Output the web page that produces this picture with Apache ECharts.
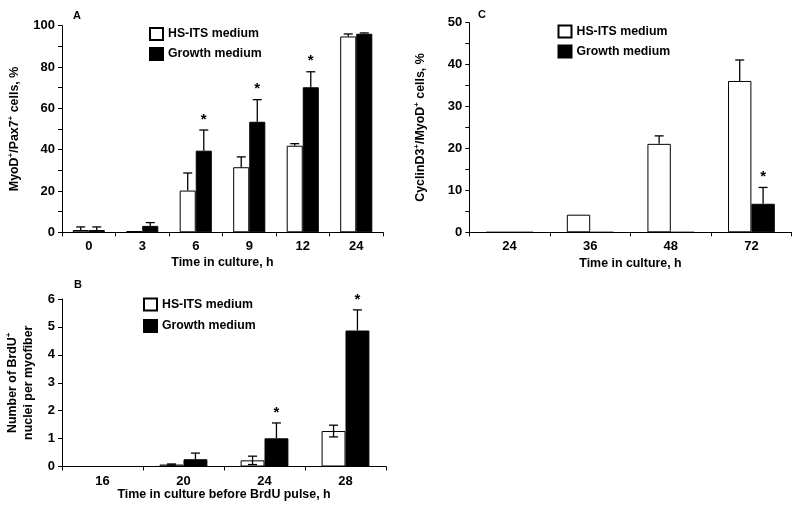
<!DOCTYPE html>
<html><head><meta charset="utf-8">
<script src="https://cdn.jsdelivr.net/npm/echarts@6/dist/echarts.min.js"></script>
<style>html,body{margin:0;padding:0;background:#fff}#c{width:800px;height:513px}</style>
</head><body><div id="c"></div>
<script>
// Panel A
const catsA = ['0','3','6','9','12','24'];
const hsA = [1.1, 0.6, 20.2, 31.5, 41.9, 94.8];
const hsAerr = [1.5, 0, 8.5, 5.0, 1.0, 1.2];
const gmA = [1.1, 3.1, 39.5, 53.5, 70.2, 96.1];
const gmAerr = [1.5, 1.6, 10.0, 10.7, 7.5, 0.4];
const sigA = [0, 0, 1, 1, 1, 0];
// Panel B
const catsB = ['16','20','24','28'];
const hsB = [0, 0.07, 0.22, 1.27];
const hsBerr = [0, 0.02, 0.15, 0.21];
const gmB = [0, 0.26, 1.01, 4.87];
const gmBerr = [0, 0.22, 0.55, 0.74];
const sigB = [0, 0, 1, 1];
// Panel C
const catsC = ['24','36','48','72'];
const hsC = [0, 4.2, 21.1, 36.1];
const hsCerr = [0, 0, 1.9, 5.0];
const gmC = [0, 0, 0, 6.8];
const gmCerr = [0, 0, 0, 3.9];
const sigC = [0, 0, 0, 1];

const S1 = 'HS-ITS medium', S2 = 'Growth medium';
const FF = '"Liberation Sans", Arial, sans-serif';
const gaps = [0.40, 0.41, 0.42];

const chart = echarts.init(document.getElementById('c'), null, {renderer: 'canvas'});

function yAxisCfg(gi, max, interval, minor, name, gap) {
  return {
    type: 'value', gridIndex: gi, min: 0, max: max, interval: interval,
    axisLine: {show: true, lineStyle: {color: '#000', width: 1}},
    axisTick: {show: true, length: 4, lineStyle: {color: '#000'}},
    minorTick: {show: minor, splitNumber: 2, length: 4, lineStyle: {color: '#000'}},
    splitLine: {show: false},
    axisLabel: {color: '#000', fontFamily: FF, fontWeight: 'bold', fontSize: 13, margin: 7},
    name: name, nameLocation: 'middle', nameGap: gap,
    nameTextStyle: {color: '#000', fontFamily: FF, fontWeight: 'bold', fontSize: 12.4, lineHeight: 16,
      rich: {s: {fontSize: 8, fontWeight: 'bold', fontFamily: FF, color: '#000', verticalAlign: 'top', lineHeight: 16}}}
  };
}
function xAxisCfg(gi, cats, name, gap) {
  return {
    type: 'category', gridIndex: gi, data: cats,
    axisLine: {show: true, lineStyle: {color: '#000', width: 1}},
    axisTick: {show: true, length: 4, lineStyle: {color: '#000'}},
    axisLabel: {color: '#000', fontFamily: FF, fontWeight: 'bold', fontSize: 13, margin: 8},
    name: name, nameLocation: 'middle', nameGap: gap,
    nameTextStyle: {color: '#000', fontFamily: FF, fontWeight: 'bold', fontSize: 12.4}
  };
}
function barSeries(name, gi, data, color) {
  return {
    name: name, type: 'bar', xAxisIndex: gi, yAxisIndex: gi, data: data,
    barGap: '0%', barCategoryGap: (gaps[gi] * 100) + '%',
    itemStyle: {color: color, borderColor: '#000', borderWidth: 1},
    silent: true
  };
}
function errSeries(gi, hs, hsErr, gm, gmErr, sig, lowerWhite) {
  const data = [];
  for (let i = 0; i < hs.length; i++) {
    data.push([i, hs[i], hsErr[i], 0, 0]);
    data.push([i, gm[i], gmErr[i], 1, sig[i]]);
  }
  return {
    type: 'custom', xAxisIndex: gi, yAxisIndex: gi, data: data, z: 5, silent: true,
    encode: {x: 0, y: 1},
    renderItem: function (params, api) {
      const cat = api.value(0), v = api.value(1), e = api.value(2), s = api.value(3), sg = api.value(4);
      const band = api.size([1, 0])[0];
      const bw = band * (1 - gaps[gi]) / 2;
      const c0 = api.coord([cat, v]);
      const x = c0[0] + (s === 0 ? -bw / 2 : bw / 2);
      const yv = c0[1];
      const yt = api.coord([cat, v + e])[1];
      const children = [];
      const ls = {stroke: '#000', lineWidth: 1.3};
      const cw = 4.5;
      if (e > 0) {
        let yb = yv;
        if (s === 0 && lowerWhite) yb = api.coord([cat, Math.max(0, v - e)])[1];
        children.push({type: 'line', shape: {x1: x, y1: yb, x2: x, y2: yt}, style: ls});
        children.push({type: 'line', shape: {x1: x - cw, y1: yt, x2: x + cw, y2: yt}, style: ls});
        if (s === 0 && lowerWhite) children.push({type: 'line', shape: {x1: x - cw, y1: yb, x2: x + cw, y2: yb}, style: ls});
      }
      if (sg) {
        children.push({type: 'text', style: {text: '*', x: x, y: yt - 3, align: 'center', verticalAlign: 'bottom',
          fontSize: 15, fontWeight: 'bold', fontFamily: FF, fill: '#000'}});
      }
      return {type: 'group', children: children};
    }
  };
}
function legendCfg(left, top, gap) {
  return {
    data: [S1, S2], orient: 'vertical', left: left, top: top, itemGap: gap, padding: 0,
    icon: 'rect', itemWidth: 13, itemHeight: 12, selectedMode: false,
    textStyle: {color: '#000', fontFamily: FF, fontWeight: 'bold', fontSize: 12.3}
  };
}
const tStyle = {color: '#000', fontFamily: FF, fontWeight: 'bold', fontSize: 11};

chart.setOption({
  animation: false,
  backgroundColor: '#fff',
  title: [
    {text: 'A', left: 73, top: 10, textStyle: tStyle, padding: 0},
    {text: 'B', left: 74, top: 279, textStyle: tStyle, padding: 0},
    {text: 'C', left: 478, top: 9, textStyle: tStyle, padding: 0}
  ],
  legend: [legendCfg(149, 27, 6), legendCfg(143, 297.5, 7.5), legendCfg(557.5, 24.5, 6)],
  grid: [
    {left: 62, top: 25.7, width: 321, height: 206.6},
    {left: 62, top: 299, width: 324, height: 167.5},
    {left: 469.3, top: 22.7, width: 322.4, height: 209.6}
  ],
  xAxis: [
    xAxisCfg(0, catsA, 'Time in culture, h', 24),
    xAxisCfg(1, catsB, 'Time in culture before BrdU pulse, h', 20),
    xAxisCfg(2, catsC, 'Time in culture, h', 25)
  ],
  yAxis: [
    yAxisCfg(0, 100, 20, true, 'MyoD{s|+}/Pax7{s|+} cells, %', 39),
    yAxisCfg(1, 6, 1, false, 'Number of BrdU{s|+}\nnuclei per myofiber', 25),
    yAxisCfg(2, 50, 10, true, 'CyclinD3{s|+}/MyoD{s|+} cells, %', 41)
  ],
  series: [
    barSeries(S1, 0, hsA, '#fff'), barSeries(S2, 0, gmA, '#000'),
    barSeries(S1, 1, hsB, '#fff'), barSeries(S2, 1, gmB, '#000'),
    barSeries(S1, 2, hsC, '#fff'), barSeries(S2, 2, gmC, '#000'),
    errSeries(0, hsA, hsAerr, gmA, gmAerr, sigA, false),
    errSeries(1, hsB, hsBerr, gmB, gmBerr, sigB, true),
    errSeries(2, hsC, hsCerr, gmC, gmCerr, sigC, false)
  ]
});
</script></body></html>
